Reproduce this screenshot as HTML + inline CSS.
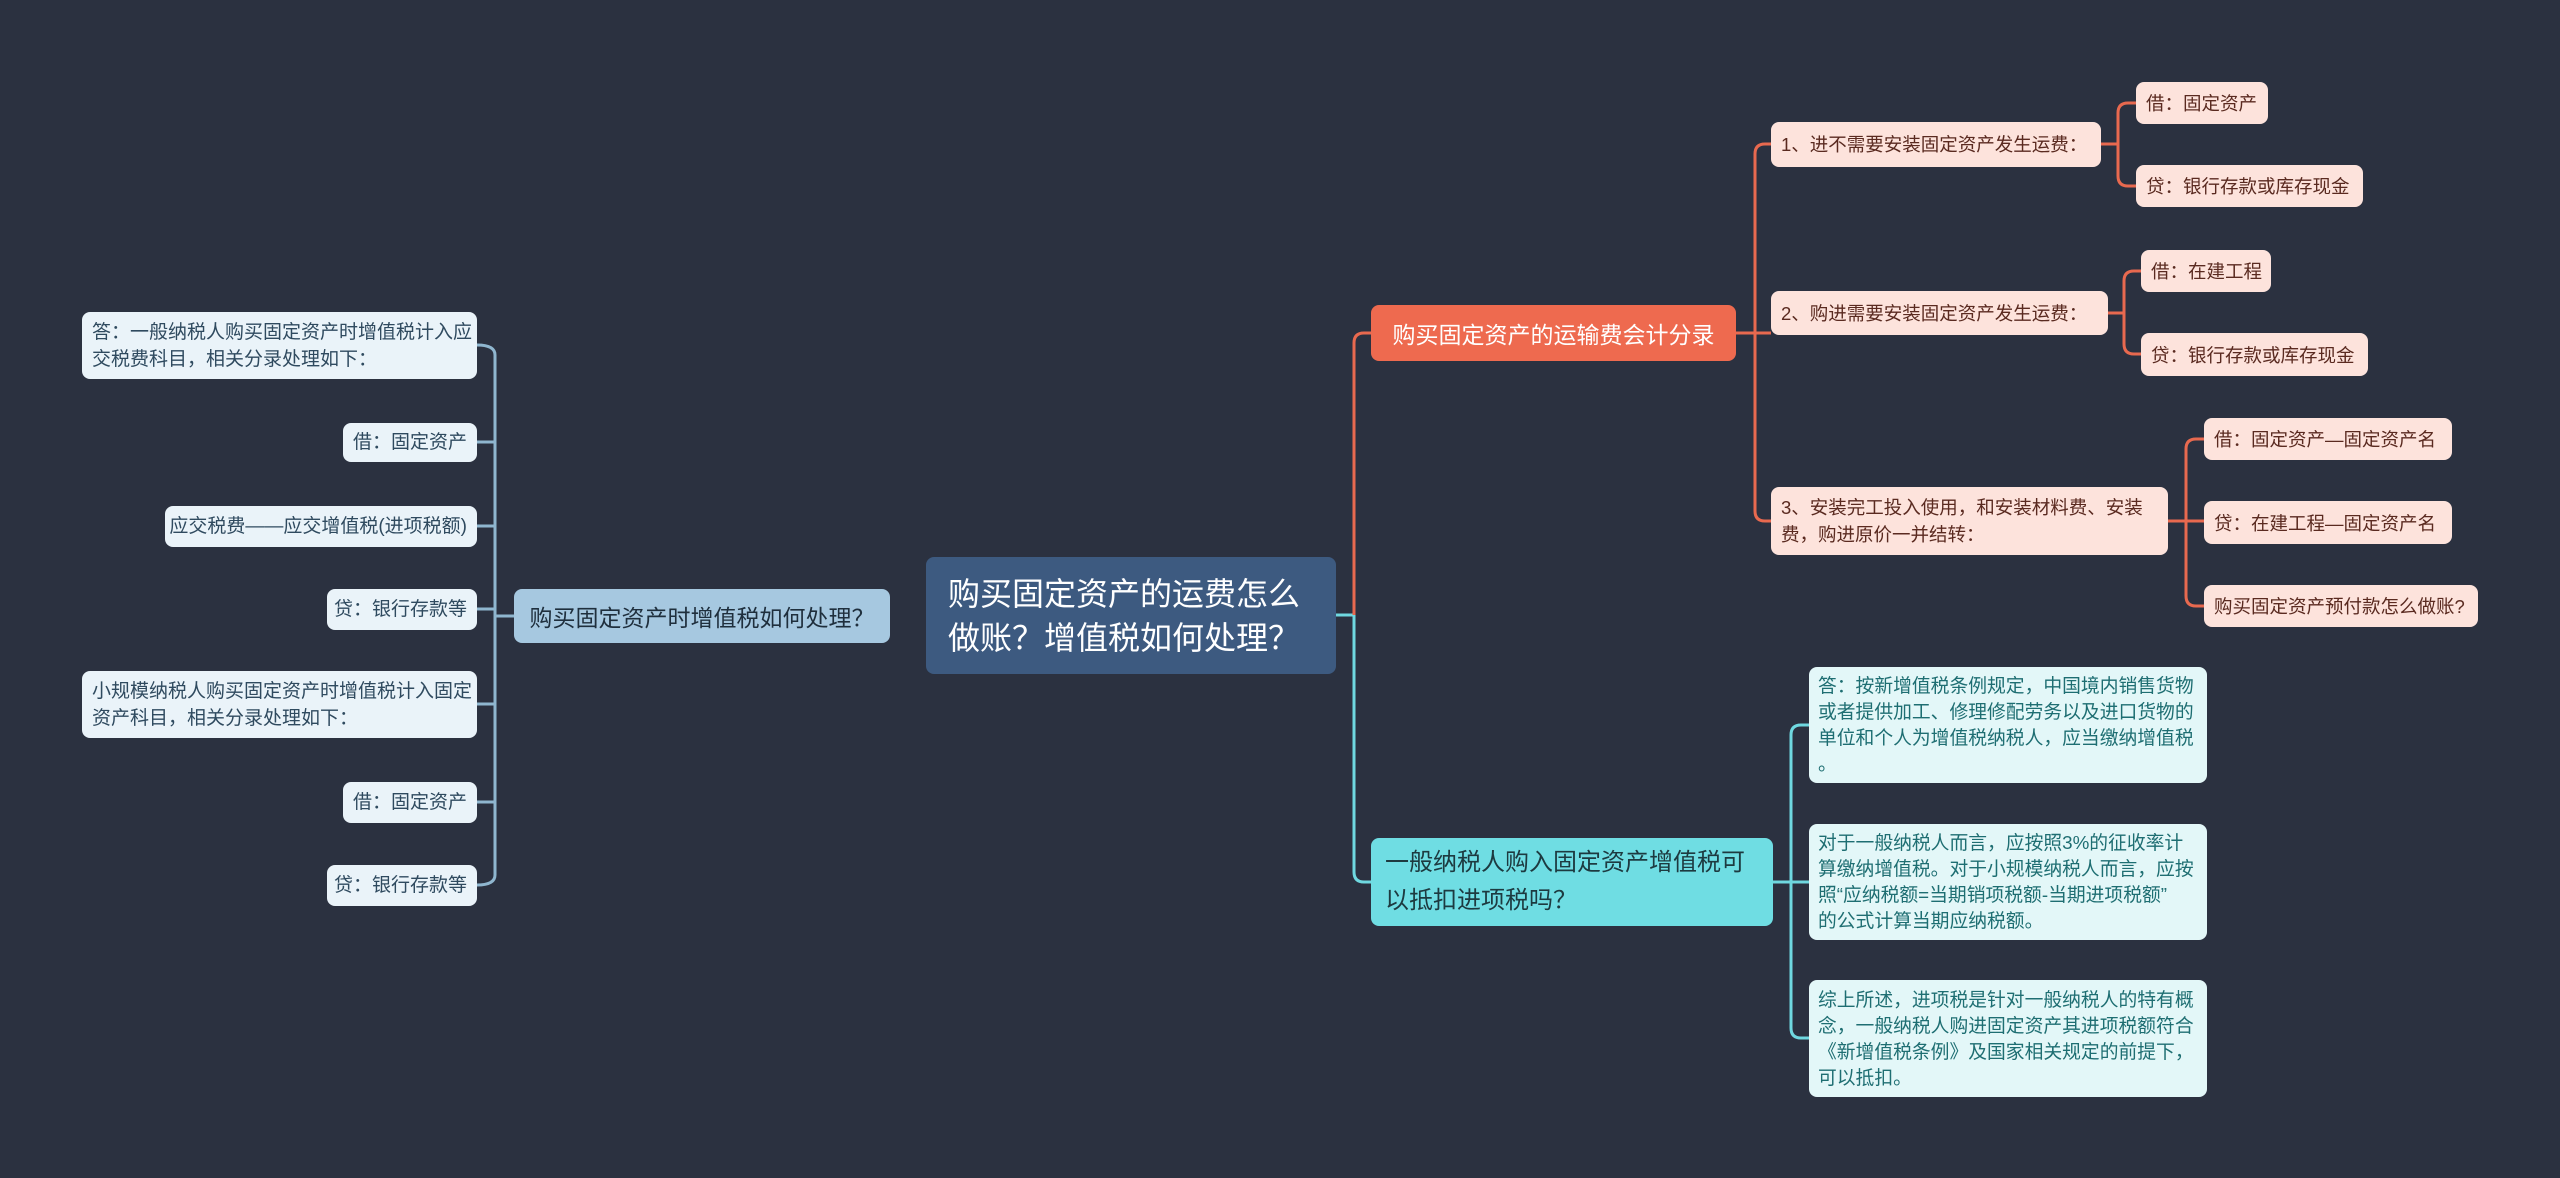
<!DOCTYPE html>
<html><head><meta charset="utf-8">
<style>
html,body{margin:0;padding:0;}
body{width:2560px;height:1178px;background:#2b3140;position:relative;overflow:hidden;font-family:"Liberation Sans","Noto Sans CJK SC",sans-serif;}
.n{position:absolute;box-sizing:border-box;border-radius:8px;display:flex;align-items:center;white-space:nowrap;}
.root{background:#3d5a80;color:#fff;font-size:32px;line-height:44px;padding:0 22px;}
.lb{background:#a6c8e0;color:#1f2f3d;font-size:23px;justify-content:center;}
.ll{background:#eaf3f9;color:#2f4a5f;font-size:19px;line-height:27px;padding:0 10px;justify-content:flex-end;}
.ll.l{justify-content:flex-start;}
.ob{background:#ee6a4f;color:#fff;font-size:23px;justify-content:center;}
.os{background:#fde3dc;color:#5a2a20;font-size:18.5px;line-height:27px;padding:0 10px;}
.ol{background:#fde3dc;color:#5a2a20;font-size:18.5px;padding:0 10px;}
.cb{background:#6fdde3;color:#1d3a40;font-size:24px;line-height:38px;padding:0 14px;}
.cl{background:#e3f7f8;color:#1e6e72;font-size:18.8px;line-height:26px;padding:0 9px;}
svg{position:absolute;left:0;top:0;}
</style></head><body>
<svg width="2560" height="1178" fill="none" stroke-width="3">
<g stroke="#8fb6cf">
<path d="M514,616 H495"/>
<path d="M477,345 Q495,345 495,355 V875 Q495,885 477,885"/>
<path d="M477,442 H495 M477,526 H495 M477,609 H495 M477,704 H495 M477,802 H495"/>
</g>
<g stroke="#6fd8e0">
<path d="M1336,615 H1354 M1354,615 V872 Q1354,882 1364,882 H1371"/>
<path d="M1773,882 H1809 M1809,725 H1801 Q1791,725 1791,735 V1028 Q1791,1038 1801,1038 H1809"/>
</g>
<g stroke="#e8694f">
<path d="M1354,615 V343 Q1354,333 1364,333 H1371"/>
<path d="M1736,333 H1771 M1771,144 H1765 Q1755,144 1755,154 V511 Q1755,521 1765,521 H1771"/>
<path d="M2101,144 H2118 M2136,103 H2128 Q2118,103 2118,113 V176 Q2118,186 2128,186 H2136"/>
<path d="M2108,313 H2124 M2141,271 H2134 Q2124,271 2124,281 V344 Q2124,354 2134,354 H2141"/>
<path d="M2168,521 H2204 M2204,439 H2196 Q2186,439 2186,449 V596 Q2186,606 2196,606 H2204"/>
</g>
</svg>

<div class="n root" style="left:926px;top:557px;width:410px;height:117px;">购买固定资产的运费怎么<br>做账？增值税如何处理？</div>

<div class="n lb" style="left:514px;top:589px;width:376px;height:54px;">购买固定资产时增值税如何处理？</div>
<div class="n ll l" style="left:82px;top:312px;width:395px;height:67px;">答：一般纳税人购买固定资产时增值税计入应<br>交税费科目，相关分录处理如下：</div>
<div class="n ll" style="left:343px;top:423px;width:134px;height:39px;">借：固定资产</div>
<div class="n ll" style="left:165px;top:506px;width:312px;height:41px;">应交税费——应交增值税(进项税额)</div>
<div class="n ll" style="left:327px;top:589px;width:150px;height:41px;">贷：银行存款等</div>
<div class="n ll l" style="left:82px;top:671px;width:395px;height:67px;">小规模纳税人购买固定资产时增值税计入固定<br>资产科目，相关分录处理如下：</div>
<div class="n ll" style="left:343px;top:782px;width:134px;height:41px;">借：固定资产</div>
<div class="n ll" style="left:327px;top:865px;width:150px;height:41px;">贷：银行存款等</div>

<div class="n ob" style="left:1371px;top:305px;width:365px;height:56px;">购买固定资产的运输费会计分录</div>
<div class="n os" style="left:1771px;top:122px;width:330px;height:45px;">1、进不需要安装固定资产发生运费：</div>
<div class="n os" style="left:1771px;top:291px;width:337px;height:44px;">2、购进需要安装固定资产发生运费：</div>
<div class="n os" style="left:1771px;top:487px;width:397px;height:68px;">3、安装完工投入使用，和安装材料费、安装<br>费，购进原价一并结转：</div>
<div class="n ol" style="left:2136px;top:82px;width:132px;height:42px;">借：固定资产</div>
<div class="n ol" style="left:2136px;top:165px;width:227px;height:42px;">贷：银行存款或库存现金</div>
<div class="n ol" style="left:2141px;top:250px;width:130px;height:42px;">借：在建工程</div>
<div class="n ol" style="left:2141px;top:333px;width:227px;height:43px;">贷：银行存款或库存现金</div>
<div class="n ol" style="left:2204px;top:418px;width:248px;height:42px;">借：固定资产—固定资产名</div>
<div class="n ol" style="left:2204px;top:501px;width:248px;height:43px;">贷：在建工程—固定资产名</div>
<div class="n ol" style="left:2204px;top:585px;width:274px;height:42px;">购买固定资产预付款怎么做账?</div>

<div class="n cb" style="left:1371px;top:838px;width:402px;height:88px;">一般纳税人购入固定资产增值税可<br>以抵扣进项税吗？</div>
<div class="n cl" style="left:1809px;top:667px;width:398px;height:116px;">答：按新增值税条例规定，中国境内销售货物<br>或者提供加工、修理修配劳务以及进口货物的<br>单位和个人为增值税纳税人，应当缴纳增值税<br>。</div>
<div class="n cl" style="left:1809px;top:824px;width:398px;height:116px;">对于一般纳税人而言，应按照3%的征收率计<br>算缴纳增值税。对于小规模纳税人而言，应按<br>照“应纳税额=当期销项税额-当期进项税额”<br>的公式计算当期应纳税额。</div>
<div class="n cl" style="left:1809px;top:980px;width:398px;height:117px;">综上所述，进项税是针对一般纳税人的特有概<br>念，一般纳税人购进固定资产其进项税额符合<br>《新增值税条例》及国家相关规定的前提下，<br>可以抵扣。</div>
</body></html>
